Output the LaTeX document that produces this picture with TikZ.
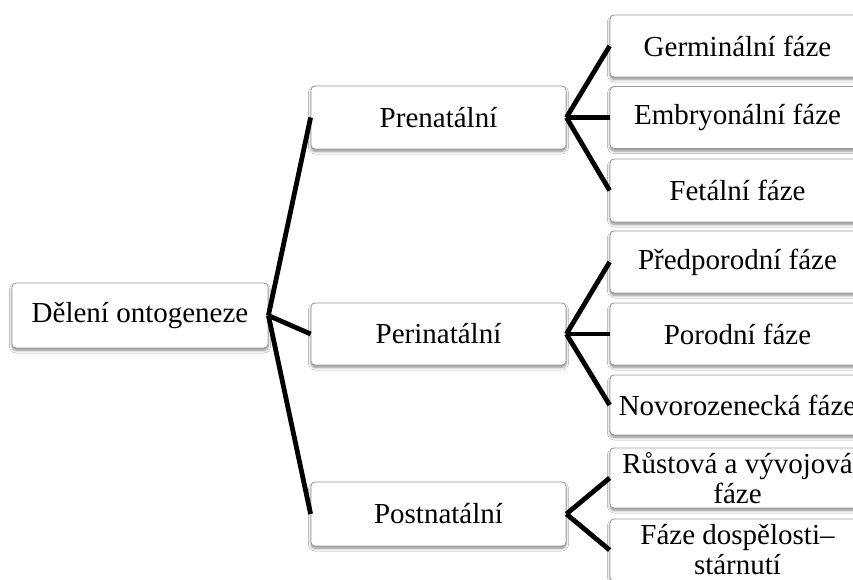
\documentclass[tikz,border=0pt]{standalone}
\usepackage{fontspec}
\setmainfont{Liberation Serif}
\usetikzlibrary{shadows.blur}
\tikzset{
  box/.style={draw=black!40, line width=0.8pt, fill=white, rounded corners=4pt,
    minimum width=255pt, minimum height=62pt, inner sep=0pt, align=center,
    font=\fontsize{29}{30}\selectfont,
    blur shadow={shadow xshift=0pt, shadow yshift=-2.5pt, shadow blur steps=6, shadow opacity=45, shadow blur radius=2.5pt}},
  conn/.style={line width=4.8pt, black}
}
\begin{document}
\begin{tikzpicture}[x=1pt,y=-1pt]
\useasboundingbox (0,0) rectangle (853,579);
\clip (0,0) rectangle (853,579);
\fill[white] (0,0) rectangle (853,579);
\node[box, minimum width=256pt, minimum height=65pt] (root) at (140,315.5) {Dělení ontogeneze};
\node[box, minimum height=63pt] (pre) at (438.5,117.5) {Prenatální};
\node[box] (peri) at (438.5,334) {Perinatální};
\node[box, minimum height=64pt] (post) at (438.5,514) {Postnatální};
\node[box] (g) at (737.5,46) {Germinální fáze};
\node[box] (e) at (737.5,117.5) {Embryonální fáze};
\node[box, minimum height=63pt] (f) at (737.5,190.5) {Fetální fáze};
\node[box] (pp) at (737.5,262) {Předporodní fáze};
\node[box] (po) at (737.5,334) {Porodní fáze};
\node[box, minimum height=60pt] (nv) at (737.5,405) {Novorozenecká fáze};
\node[box, minimum height=60pt] (rv) at (737.5,478) {Růstová a vývojová\\fáze};
\node[box] (fd) at (737.5,550) {Fáze dospělosti–\\stárnutí};
\draw[conn] (root.east) -- (pre.west);
\draw[conn] (root.east) -- (peri.west);
\draw[conn] (root.east) -- (post.west);
\draw[conn] (pre.east) -- (g.west);
\draw[conn] (pre.east) -- (e.west);
\draw[conn] (pre.east) -- (f.west);
\draw[conn] (peri.east) -- (pp.west);
\draw[conn] (peri.east) -- (po.west);
\draw[conn] (peri.east) -- (nv.west);
\draw[conn] (post.east) -- (rv.west);
\draw[conn] (post.east) -- (fd.west);
\end{tikzpicture}
\end{document}
